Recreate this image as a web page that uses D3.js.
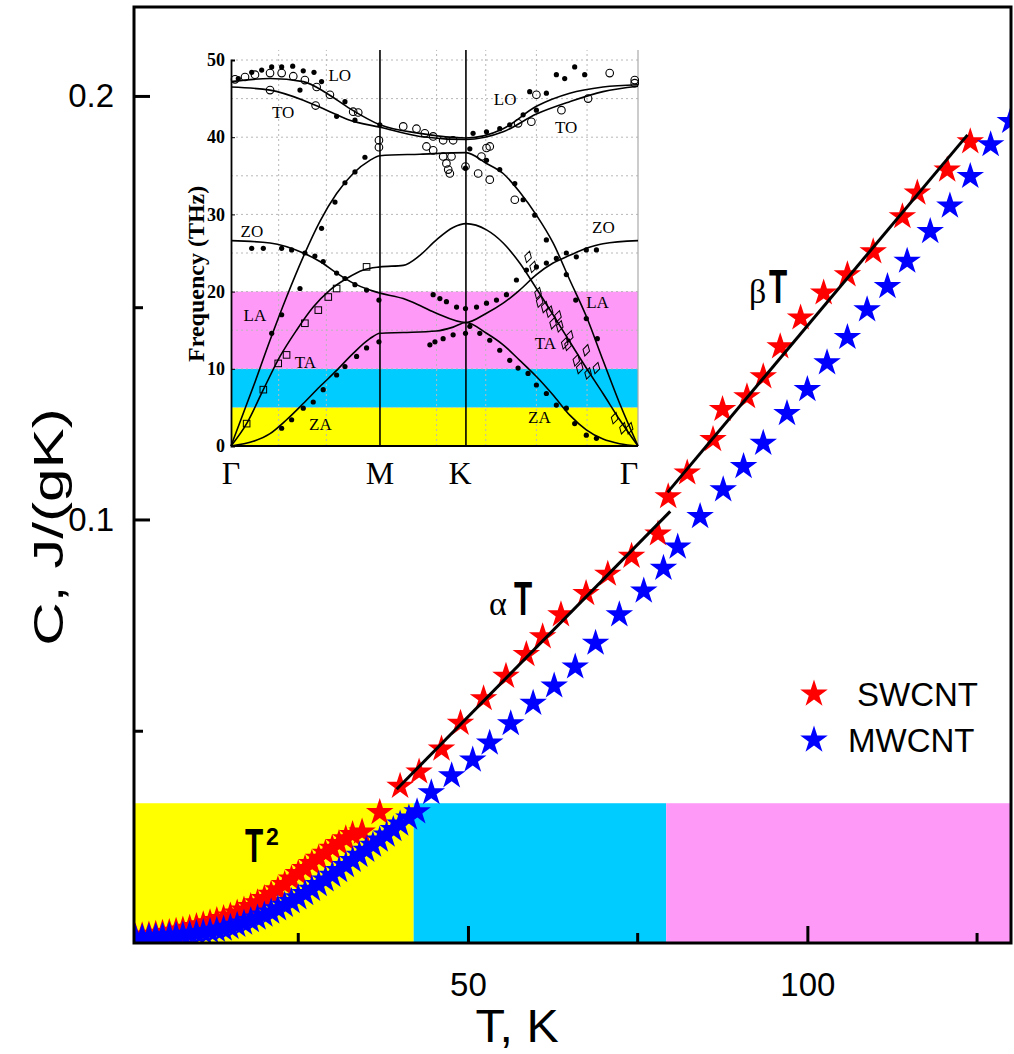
<!DOCTYPE html>
<html>
<head>
<meta charset="utf-8">
<script src="https://cdn.jsdelivr.net/npm/d3@7"></script>
<style>
  body { margin: 0; background: #fff; }
</style>
</head>
<body>
<svg id="chart"></svg>
<script>
// ---- main chart data: heat capacity C (J/gK) vs T (K)
const swT = [1, 2, 3, 4, 5, 6, 7, 8, 9, 10, 11, 12, 13, 14, 15, 16, 17, 18, 19, 20, 21, 22, 23, 24, 25, 26, 27, 28, 29, 30, 31, 32, 33,
  34.4, 37, 40, 42.8, 46.1, 48.9, 52.3, 55.6, 58.6, 61, 63.7, 67.4, 70.6, 74.1, 78,
  79.5, 82.3, 86.1, 87.5, 91.1, 93.5, 96, 99, 102.4, 105.9, 109.7, 114, 116.2, 120.6, 124];
const swC = [0.0014, 0.0017, 0.0019, 0.0021, 0.0023, 0.0025, 0.0028, 0.0031, 0.0035, 0.0039, 0.0043, 0.0048, 0.0053, 0.0058, 0.0064,
  0.0071, 0.0078, 0.0086, 0.0095, 0.0105, 0.0115, 0.0126, 0.0138, 0.0151, 0.0164, 0.0176, 0.0188, 0.0200, 0.0212, 0.0224, 0.0235, 0.0246, 0.0256,
  0.0262, 0.0308, 0.0370, 0.0404, 0.0458, 0.0519, 0.0577, 0.0630, 0.0681, 0.0723, 0.0775, 0.0825, 0.0871, 0.0913, 0.0966,
  0.1054, 0.1110, 0.1189, 0.1260, 0.1290, 0.1337, 0.1408, 0.1476, 0.1535, 0.1578, 0.1632, 0.1715, 0.1771, 0.1825, 0.1892];

const mwT = [1, 2, 3, 4, 5, 6, 7, 8, 9, 10, 11, 12, 13, 14, 15, 16, 17, 18, 19, 20, 21, 22, 23, 24, 25, 26, 27, 28, 29, 30,
  31, 32, 33, 34, 35, 36, 37, 38, 39, 40,
  41.3, 42.5, 44.6, 47.6, 50.7, 53.2, 56.3, 59.6, 62.7, 65.8, 68.8, 72.3, 75.9, 78.8, 80.9, 84.2, 87.6, 90.6, 93.5, 97,
  100, 102.9, 105.9, 108.8, 111.8, 114.7, 118.1, 121, 124, 127, 129.9];
const mwC = [0.0012, 0.0013, 0.0014, 0.0015, 0.0016, 0.0017, 0.0018, 0.0019, 0.0021, 0.0023, 0.0025, 0.0027, 0.0030, 0.0033, 0.0037,
  0.0042, 0.0047, 0.0053, 0.0059, 0.0066, 0.0073, 0.0081, 0.0089, 0.0098, 0.0107, 0.0117, 0.0127, 0.0138, 0.0149, 0.0160,
  0.0171, 0.0183, 0.0195, 0.0207, 0.0219, 0.0231, 0.0243, 0.0255, 0.0268, 0.0281,
  0.0295, 0.0310, 0.0355, 0.0395, 0.0432, 0.0472, 0.0518, 0.0566, 0.0607, 0.0652, 0.0708, 0.0775, 0.0831, 0.0885, 0.0935,
  0.1007, 0.1070, 0.1125, 0.1180, 0.1250, 0.1307, 0.1370, 0.1430, 0.1495, 0.1550, 0.1610, 0.1680, 0.1740, 0.1810, 0.1885, 0.1940];

// linear fits
const alphaT = [39.5, 79.8];
const alphaC = [0.0363, 0.1019];
const betaT = [79.4, 123.6];
const betaC = [0.1064, 0.1908];

// frequency bands shown along T (bottom strip)
const bandEdges = [0.8, 42, 79.2, 130];
const bandColors = ['#ffff00', '#00ccff', '#ff99f7'];
const bandTop = 0.033;

const xTicksMajor = [50, 100];
const xTicksMinor = [25, 75, 125];
const yTicksMajor = [0.1, 0.2];
const yTicksMinor = [0.05, 0.15];

// ---- inset: phonon dispersion of graphene, path G-M-K-G
const symPoints = [0, 1, 1.577, 2.732];
const symLabels = ['Γ', 'M', 'K', 'Γ'];
const freqBands = [0, 5, 10, 20];
const freqTicks = [0, 10, 20, 30, 40, 50];
const gridQ = [0.32, 0.64, 1.38, 1.71, 2.05, 2.39];
const gridF = [5, 15, 25, 35, 45];

const loCurve = [[0, 47.2], [0.262, 47.6], [0.485, 47.2], [0.642, 45.7], [0.798, 43.7], [1, 41.6], [1.268, 40.5], [1.577, 39.9],
  [1.827, 41.1], [2.05, 44.0], [2.274, 45.7], [2.497, 46.5], [2.732, 46.8]];
const toCurve = [[0, 46.5], [0.262, 46.1], [0.485, 44.8], [0.642, 43.5], [0.798, 42.2], [1, 41.3], [1.268, 40.1], [1.577, 39.7],
  [1.827, 40.7], [2.05, 43.0], [2.274, 44.6], [2.497, 45.9], [2.732, 46.6]];
const laCurve = [[0, 0], [0.15, 7.7], [0.262, 13.7], [0.373, 19.3], [0.485, 24.5], [0.597, 29.1], [0.709, 32.7], [0.82, 35.3],
  [0.932, 37.0], [1, 37.6], [1.268, 37.8], [1.577, 38.0], [1.715, 36.6], [1.827, 35.3], [1.938, 32.9], [2.05, 29.9],
  [2.162, 26.3], [2.274, 21.5], [2.385, 16.8], [2.497, 11.1], [2.609, 5.5], [2.732, 0]];
const taCurve = [[0, 0], [0.105, 2.9], [0.217, 7.3], [0.329, 11.6], [0.44, 15.0], [0.552, 18.0], [0.664, 20.2], [0.776, 21.7],
  [0.888, 22.8], [1, 23.2], [1.156, 23.4], [1.268, 24.7], [1.379, 26.7], [1.491, 28.3], [1.577, 28.8], [1.715, 28.0],
  [1.827, 26.3], [1.938, 23.7], [2.05, 20.4], [2.162, 17.0], [2.274, 13.5], [2.385, 10.1], [2.497, 6.8], [2.609, 3.4], [2.732, 0]];
const zoCurve = [[0, 26.6], [0.262, 26.3], [0.485, 25.0], [0.597, 23.9], [0.709, 22.4], [0.82, 21.1], [0.932, 20.2], [1, 19.8],
  [1.156, 19.1], [1.268, 18.2], [1.379, 17.2], [1.577, 16.0], [1.715, 17.2], [1.827, 18.5], [1.938, 20.2], [2.05, 22.2],
  [2.162, 23.7], [2.274, 24.7], [2.385, 25.6], [2.497, 26.2], [2.732, 26.6]];
const zaCurve = [[0, 0], [0.15, 0.6], [0.262, 1.6], [0.373, 3.4], [0.485, 5.5], [0.597, 7.7], [0.709, 9.8], [0.82, 12.0],
  [0.932, 13.9], [1, 14.6], [1.156, 14.7], [1.379, 14.9], [1.491, 15.4], [1.577, 16.0], [1.715, 14.6], [1.827, 13.1],
  [1.938, 11.1], [2.05, 9.0], [2.162, 6.6], [2.274, 4.0], [2.385, 2.1], [2.497, 0.9], [2.609, 0.3], [2.732, 0]];

const dotPts = [[0.049, 47.6], [0.139, 48.4], [0.206, 48.7], [0.273, 49.1], [0.34, 49.1], [0.414, 49.2], [0.485, 48.6], [0.557, 48.4],
  [0.608, 47.2], [0.463, 46.1], [0.765, 44.6], [0.709, 42.7], [0.832, 42.2], [0.999, 41.6],
  [0.273, 14.6], [0.34, 17.0], [0.463, 20.4], [0.608, 28.2], [0.698, 31.6], [0.765, 34.1], [0.832, 35.5], [0.899, 37.4],
  [0.139, 25.6], [0.217, 25.6], [0.34, 25.6], [0.407, 25.4], [0.496, 25.0], [0.563, 24.6], [0.619, 23.9], [0.709, 22.4],
  [0.765, 21.7], [0.832, 20.9], [0.91, 20.2], [0.993, 18.9],
  [0.34, 2.3], [0.407, 3.4], [0.485, 4.9], [0.552, 5.7], [0.619, 7.3], [0.709, 9.2], [0.765, 10.3], [0.843, 11.6], [0.91, 12.7], [0.993, 13.5],
  [1.335, 13.1], [1.369, 13.5], [1.424, 13.9], [1.491, 14.4], [1.574, 14.6],
  [1.357, 19.6], [1.402, 19.1], [1.446, 18.7], [1.514, 18.0], [1.574, 17.8], [1.648, 18.0], [1.715, 18.5], [1.782, 18.9], [1.849, 19.6],
  [1.603, 15.5], [1.67, 14.6], [1.737, 13.7], [1.804, 12.4], [1.871, 11.1], [1.927, 10.1], [1.994, 9.4], [2.05, 7.9], [2.117, 6.8],
  [2.184, 5.3], [2.251, 4.9], [2.307, 2.9], [2.385, 1.4], [2.453, 1.0],
  [1.916, 21.5], [1.983, 22.8], [2.05, 23.2], [2.117, 23.7], [2.251, 25.0], [2.318, 24.5], [2.385, 25.4], [2.453, 25.4],
  [1.603, 38.5], [1.715, 37.0], [1.804, 35.8], [1.905, 34.0], [1.961, 31.9], [2.039, 29.9], [2.117, 26.7], [2.184, 24.3],
  [2.251, 22.2], [2.314, 18.9], [2.385, 16.5], [2.459, 13.9],
  [1.625, 40.5], [1.715, 40.7], [1.804, 41.1], [1.871, 41.6], [1.961, 42.9], [2.05, 43.5], [2.117, 45.7], [2.005, 45.9],
  [2.184, 48.1], [2.24, 47.6], [2.307, 49.1], [2.374, 48.1], [1.574, 36.0]];
const circlePts = [[0.027, 47.5], [0.094, 47.8], [0.161, 48.1], [0.262, 48.3], [0.34, 48.3], [0.418, 47.9], [0.496, 47.4],
  [0.575, 46.5], [0.664, 45.5], [0.82, 43.3], [0.854, 43.2], [0.262, 46.1], [0.568, 44.1], [0.993, 39.6], [0.993, 38.7],
  [1.156, 41.4], [1.245, 41.1], [1.301, 40.5], [1.312, 38.8], [1.357, 40.1], [1.357, 38.3], [1.424, 39.6], [1.424, 37.5],
  [1.446, 36.6], [1.458, 35.8], [1.469, 35.3], [1.48, 37.5], [1.491, 39.6], [1.574, 36.2], [1.681, 37.5], [1.715, 38.6],
  [1.737, 38.8], [1.659, 35.3], [1.737, 34.5], [1.905, 31.9], [1.927, 41.8], [2.016, 42.0], [2.05, 45.5], [2.218, 43.5],
  [2.397, 45.0], [2.542, 48.3], [2.71, 47.4], [2.71, 47.0]];
const squarePts = [[0.105, 2.9], [0.217, 7.3], [0.317, 10.7], [0.373, 11.8], [0.496, 15.9], [0.586, 17.6], [0.653, 19.3],
  [0.709, 20.4], [0.91, 23.2]];
const diamondPts = [[1.994, 24.5], [2.028, 23.2], [2.061, 19.8], [2.072, 18.7], [2.106, 18.0], [2.139, 17.4], [2.162, 15.9],
  [2.195, 16.8], [2.207, 15.5], [2.24, 13.3], [2.262, 13.1], [2.274, 14.2], [2.318, 11.1], [2.341, 10.1], [2.385, 12.4],
  [2.397, 9.4], [2.453, 10.1], [2.575, 3.6], [2.631, 2.3], [2.676, 2.3]];

const branchLabels = [
  ['LO', 0.73, 48.1], ['TO', 0.35, 43.2], ['ZO', 0.14, 27.9], ['LA', 0.16, 17.0], ['TA', 0.5, 10.9], ['ZA', 0.6, 2.8],
  ['LO', 1.84, 44.9], ['TO', 2.25, 41.3], ['ZO', 2.5, 28.3], ['LA', 2.46, 18.7], ['TA', 2.11, 13.4], ['ZA', 2.07, 3.7]
];

const legendNames = ['SWCNT', 'MWCNT'];
const legendColors = ['#ff0000', '#0000ff'];

// ---- layout
const width = 1014, height = 1054;
const svg = d3.select('#chart').attr('width', width).attr('height', height);

const x = d3.scaleLinear().domain([0.8, 130]).range([134, 1011]);
const y = d3.scaleLinear().domain([0, 0.221]).range([943, 7]);

svg.append('defs').append('clipPath').attr('id', 'plotClip')
  .append('rect').attr('x', 134).attr('y', 7).attr('width', 877).attr('height', 936);

// bottom colour bands
svg.append('g').selectAll('rect')
  .data(bandColors)
  .join('rect')
  .attr('x', (d, i) => x(bandEdges[i]))
  .attr('y', y(bandTop))
  .attr('width', (d, i) => x(bandEdges[i + 1]) - x(bandEdges[i]))
  .attr('height', y(0) - y(bandTop))
  .attr('fill', d => d);

// ---- inset
const xi = d3.scaleLinear().domain([0, 2.732]).range([231, 638]);
const yi = d3.scaleLinear().domain([0, 50]).range([446, 60]);
const inset = svg.append('g');

inset.selectAll('.fband')
  .data(bandColors)
  .join('rect')
  .attr('class', 'fband')
  .attr('x', xi(0))
  .attr('y', (d, i) => yi(freqBands[i + 1]))
  .attr('width', xi(2.732) - xi(0))
  .attr('height', (d, i) => yi(freqBands[i]) - yi(freqBands[i + 1]))
  .attr('fill', d => d);

// dotted grid
inset.selectAll('.gq')
  .data(gridQ)
  .join('line')
  .attr('x1', d => xi(d)).attr('x2', d => xi(d))
  .attr('y1', yi(0)).attr('y2', yi(51.3))
  .attr('stroke', '#b8b8b8').attr('stroke-width', 1).attr('stroke-dasharray', '2,3');
inset.selectAll('.gf')
  .data(gridF.concat(freqTicks.slice(1)))
  .join('line')
  .attr('x1', xi(0)).attr('x2', xi(2.732))
  .attr('y1', d => yi(d)).attr('y2', d => yi(d))
  .attr('stroke', '#b8b8b8').attr('stroke-width', 1).attr('stroke-dasharray', '2,3');

// right edge
inset.append('line')
  .attr('x1', xi(2.732)).attr('x2', xi(2.732))
  .attr('y1', yi(0)).attr('y2', yi(51.3))
  .attr('stroke', '#aaa').attr('stroke-width', 1.2);

// M and K verticals
inset.selectAll('.sym')
  .data(symPoints.slice(1, 3))
  .join('line')
  .attr('x1', d => xi(d)).attr('x2', d => xi(d))
  .attr('y1', yi(0)).attr('y2', yi(51.3))
  .attr('stroke', '#000').attr('stroke-width', 1.6);

const branchLine = d3.line().x(d => xi(d[0])).y(d => yi(d[1])).curve(d3.curveMonotoneX);
inset.selectAll('.branch')
  .data([loCurve, toCurve, laCurve, taCurve, zoCurve, zaCurve])
  .join('path')
  .attr('d', branchLine)
  .attr('fill', 'none')
  .attr('stroke', '#000')
  .attr('stroke-width', 1.6);

inset.selectAll('.dot')
  .data(dotPts)
  .join('circle')
  .attr('cx', d => xi(d[0])).attr('cy', d => yi(d[1]))
  .attr('r', 2.6).attr('fill', '#000');

inset.selectAll('.ocirc')
  .data(circlePts)
  .join('circle')
  .attr('cx', d => xi(d[0])).attr('cy', d => yi(d[1]))
  .attr('r', 3.8).attr('fill', 'none').attr('stroke', '#000').attr('stroke-width', 1.1);

inset.selectAll('.osq')
  .data(squarePts)
  .join('rect')
  .attr('x', d => xi(d[0]) - 3.3).attr('y', d => yi(d[1]) - 3.3)
  .attr('width', 6.6).attr('height', 6.6)
  .attr('fill', 'none').attr('stroke', '#000').attr('stroke-width', 1);

inset.selectAll('.odia')
  .data(diamondPts)
  .join('path')
  .attr('d', d3.symbol(d3.symbolDiamond, 40))
  .attr('transform', d => `translate(${xi(d[0])},${yi(d[1])}) rotate(15)`)
  .attr('fill', 'none').attr('stroke', '#000').attr('stroke-width', 1);

// inset axes
inset.append('g')
  .attr('transform', `translate(${xi(0)},0)`)
  .call(d3.axisLeft(yi).tickValues(freqTicks).tickSize(-4).tickPadding(6))
  .call(g => g.select('.domain').attr('stroke-width', 1.8))
  .selectAll('text')
  .attr('font-family', '"Liberation Serif", serif')
  .attr('font-weight', 'bold')
  .attr('font-size', 18)
  .attr('fill', '#000');
inset.append('line')
  .attr('x1', xi(0)).attr('x2', xi(2.732))
  .attr('y1', yi(0)).attr('y2', yi(0))
  .attr('stroke', '#000').attr('stroke-width', 1.8);

inset.append('text')
  .attr('transform', `translate(204,${yi(22.3)}) rotate(-90)`)
  .attr('text-anchor', 'middle')
  .attr('font-family', '"Liberation Serif", serif')
  .attr('font-weight', 'bold')
  .attr('font-size', 24)
  .text('Frequency (THz)');

inset.selectAll('.symlab')
  .data(symLabels)
  .join('text')
  .attr('x', (d, i) => xi(symPoints[i]) + (i === 3 ? -9 : i === 2 ? -6 : 0))
  .attr('y', 484)
  .attr('text-anchor', 'middle')
  .attr('font-family', '"Liberation Serif", serif')
  .attr('font-size', 32)
  .text(d => d);

inset.selectAll('.blab')
  .data(branchLabels)
  .join('text')
  .attr('x', d => xi(d[1]))
  .attr('y', d => yi(d[2]))
  .attr('text-anchor', 'middle')
  .attr('dy', '0.35em')
  .attr('font-family', '"Liberation Serif", serif')
  .attr('font-size', 17)
  .text(d => d[0]);

// ---- data stars
const star = d3.symbol(d3.symbolStar, 235);
const plot = svg.append('g').attr('clip-path', 'url(#plotClip)');

plot.selectAll('.sw')
  .data(swT)
  .join('path')
  .attr('d', star)
  .attr('transform', (d, i) => `translate(${x(d)},${y(swC[i])})`)
  .attr('fill', '#ff0000');

plot.selectAll('.mw')
  .data(mwT)
  .join('path')
  .attr('d', star)
  .attr('transform', (d, i) => `translate(${x(d)},${y(mwC[i])})`)
  .attr('fill', '#0000ff');

// fit lines
const fitLine = d3.line().x(d => x(d[0])).y(d => y(d[1]));
plot.append('path')
  .attr('d', fitLine(alphaT.map((t, i) => [t, alphaC[i]])))
  .attr('stroke', '#000').attr('stroke-width', 3).attr('fill', 'none');
plot.append('path')
  .attr('d', fitLine(betaT.map((t, i) => [t, betaC[i]])))
  .attr('stroke', '#000').attr('stroke-width', 3).attr('fill', 'none');

// ---- axes (ticks inward)
const axisFont = '"Liberation Sans", Arial, sans-serif';
const xAxis = svg.append('g').attr('transform', `translate(0,${y(0)})`);
xAxis.call(d3.axisBottom(x).tickValues(xTicksMajor).tickSize(-17).tickPadding(30))
  .call(g => g.select('.domain').remove())
  .call(g => g.selectAll('line').attr('stroke-width', 3))
  .selectAll('text')
  .attr('font-family', axisFont).attr('font-size', 33).attr('fill', '#000');
xAxis.selectAll('.minor')
  .data(xTicksMinor)
  .join('line')
  .attr('x1', d => x(d)).attr('x2', d => x(d))
  .attr('y1', 0).attr('y2', -10)
  .attr('stroke', '#000').attr('stroke-width', 3);

const yAxis = svg.append('g').attr('transform', `translate(${x.range()[0]},0)`);
yAxis.call(d3.axisLeft(y).tickValues(yTicksMajor).tickSize(-16).tickPadding(20).tickFormat(d3.format('.1f')))
  .call(g => g.select('.domain').remove())
  .call(g => g.selectAll('line').attr('stroke-width', 3))
  .selectAll('text')
  .attr('font-family', axisFont).attr('font-size', 33).attr('fill', '#000');
yAxis.selectAll('.minor')
  .data(yTicksMinor)
  .join('line')
  .attr('x1', 0).attr('x2', 9)
  .attr('y1', d => y(d)).attr('y2', d => y(d))
  .attr('stroke', '#000').attr('stroke-width', 3);

// frame
svg.append('rect')
  .attr('x', 134).attr('y', 7).attr('width', 877).attr('height', 936)
  .attr('fill', 'none').attr('stroke', '#000').attr('stroke-width', 3);

// axis titles
svg.append('text')
  .attr('transform', `translate(63,527) rotate(-90) scale(1.4,1)`)
  .attr('text-anchor', 'middle')
  .attr('font-family', axisFont).attr('font-size', 43)
  .text('C, J/(gK)');
svg.append('text')
  .attr('transform', 'translate(517,1042) scale(1.05,1)')
  .attr('text-anchor', 'middle')
  .attr('font-family', axisFont).attr('font-size', 46)
  .text('T, K');

// ---- annotations
function fitLabel(greek, gx, tx, base) {
  svg.append('text')
    .attr('x', gx).attr('y', base)
    .attr('font-family', '"Liberation Serif", serif').attr('font-size', 34)
    .text(greek);
  svg.append('text')
    .attr('transform', `translate(${tx},${base}) scale(0.62,1)`)
    .attr('font-family', axisFont).attr('font-weight', 'bold').attr('font-size', 48)
    .text('T');
}
fitLabel('α', 489, 514, 615);
fitLabel('β', 749, 769, 303);

svg.append('text')
  .attr('transform', 'translate(245,862) scale(0.62,1)')
  .attr('font-family', axisFont).attr('font-weight', 'bold').attr('font-size', 48)
  .text('T');
svg.append('text')
  .attr('x', 266).attr('y', 845)
  .attr('font-family', axisFont).attr('font-weight', 'bold').attr('font-size', 23)
  .text('2');

// ---- legend
const legend = svg.append('g');
legend.selectAll('path')
  .data(legendNames)
  .join('path')
  .attr('d', star)
  .attr('transform', (d, i) => `translate(814,${694 + i * 46})`)
  .attr('fill', (d, i) => legendColors[i]);
legend.selectAll('text')
  .data(legendNames)
  .join('text')
  .attr('x', (d, i) => i === 0 ? 857 : 848)
  .attr('y', (d, i) => 706 + i * 46)
  .attr('font-family', axisFont).attr('font-size', 33)
  .text(d => d);
</script>
</body>
</html>
